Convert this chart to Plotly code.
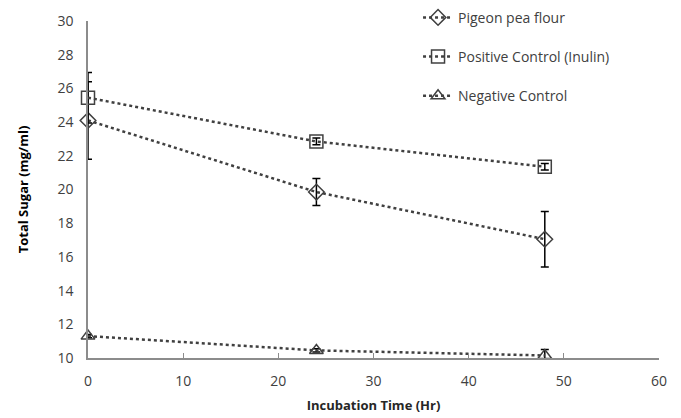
import plotly.graph_objects as go

time_hr = [0, 24, 48]
pigeon_pea = [24.1, 19.85, 17.05]
pigeon_err = [2.3, 0.8, 1.65]
positive = [25.45, 22.85, 21.35]
positive_err = [1.5, 0.2, 0.2]
negative = [11.3, 10.45, 10.15]
negative_err = [0.1, 0.1, 0.35]

series = [
    ("Pigeon pea flour", pigeon_pea, pigeon_err, "diamond-open", 12),
    ("Positive Control (Inulin)", positive, positive_err, "square-open", 13),
    ("Negative Control", negative, negative_err, "triangle-up-open", 12),
]

FONT = "'Open Sans', sans-serif"
fig = go.Figure()
for i, (name, vals, err, sym, sz) in enumerate(series):
    fig.add_trace(go.Scatter(
        x=time_hr, y=vals, name=name, mode="lines+markers",
        legendgroup=f"g{i}",
        line=dict(color="#404040", width=2.5, dash="dot"),
        marker=dict(symbol=sym, size=sz, color="#404040", line=dict(color="#404040", width=1.5)),
        error_y=dict(type="data", array=err, visible=True, color="#000000", thickness=1.5, width=4),
        cliponaxis=False,
    ))

fig.update_layout(
    width=681, height=418,
    margin=dict(l=88, r=22, t=21, b=60, autoexpand=False),
    paper_bgcolor="white", plot_bgcolor="white",
    font=dict(family=FONT, size=14, color="#404040"),
    showlegend=True,
    legend=dict(x=0.578, y=1.057, xanchor="left", yanchor="top", tracegroupgap=18,
                font=dict(size=14, color="#404040"), bgcolor="rgba(0,0,0,0)"),
    xaxis=dict(range=[0, 60], tickvals=[0, 10, 20, 30, 40, 50, 60], showgrid=False,
               showline=True, linecolor="#8c8c8c", linewidth=1.5,
               ticks="inside", ticklen=5, tickcolor="#8c8c8c", ticklabelstandoff=9,
               tickfont=dict(size=14, color="#404040"), zeroline=False, automargin=False,
               title=dict(text="<b>Incubation Time (Hr)</b>", font=dict(size=13, color="#262626"), standoff=12)),
    yaxis=dict(range=[10, 30], tickvals=list(range(10, 31, 2)), showgrid=False,
               showline=True, linecolor="#8c8c8c", linewidth=1.5, ticks="", ticklabelstandoff=10,
               tickfont=dict(size=14, color="#404040"), zeroline=False, automargin=False,
               title=dict(text="<b>Total Sugar (mg/ml)</b>", font=dict(size=13, color="#000000"), standoff=26)),
)

fig.write_html("out.html")
